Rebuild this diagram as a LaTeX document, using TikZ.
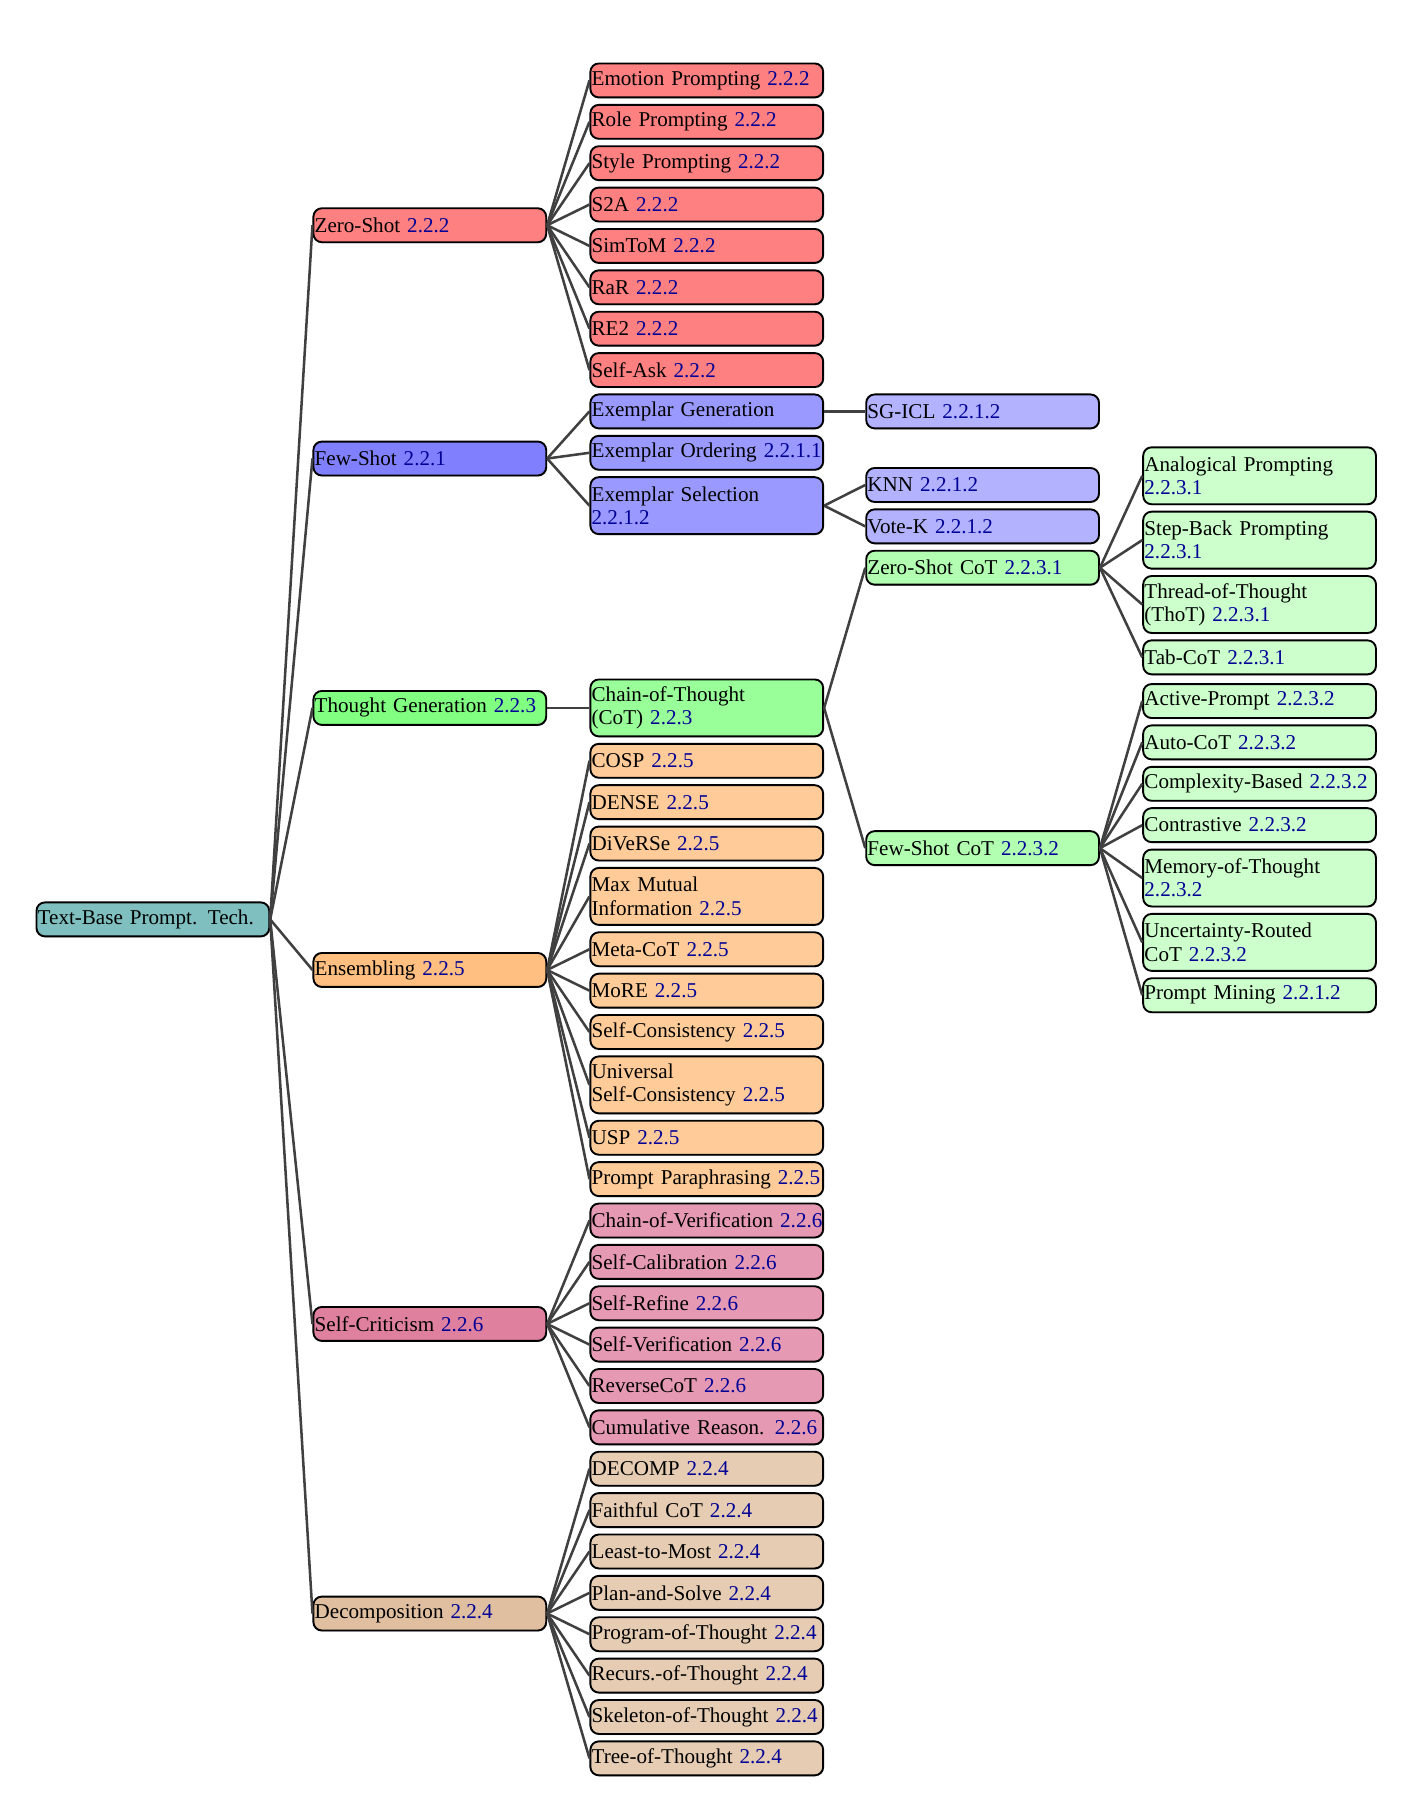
\documentclass[tikz,border=0pt]{standalone}
\usepackage{fontspec}
\setmainfont{Liberation Serif}
\usepackage{tikz}
\usetikzlibrary{shadows}
\definecolor{secblue}{RGB}{0,0,150}
\tikzstyle{tech}  = [
    draw,
    line width=0.9pt,
    rounded corners=4pt,
    inner xsep=0.6pt,
    inner ysep=1pt,
    text width=109.2pt,
    align=left,
    minimum height=16.1pt,
    font=\fontsize{10}{11}\selectfont,
    drop shadow={shadow xshift=0.3pt, shadow yshift=-0.5pt, fill=black!50}
]
\tikzstyle{twoline} = [minimum height=27pt]
\tikzstyle{link}  = [
    draw=black!75,
    line width=1.2pt
]
\tikzstyle{rootbox}  = [tech, fill=teal!50]
\tikzstyle{zero}     = [tech, fill=red!50]
\tikzstyle{few}      = [tech, fill=blue!50]
\tikzstyle{fewmid}   = [tech, fill=blue!40]
\tikzstyle{fewleaf}  = [tech, fill=blue!30]
\tikzstyle{thought}  = [tech, fill=green!50]
\tikzstyle{cot}      = [tech, fill=green!40]
\tikzstyle{cotmid}   = [tech, fill=green!30]
\tikzstyle{cotleaf}  = [tech, fill=green!20]
\tikzstyle{ens}      = [tech, fill=orange!50]
\tikzstyle{ensleaf}  = [tech, fill=orange!40]
\tikzstyle{crit}     = [tech, fill=purple!50]
\tikzstyle{critleaf} = [tech, fill=purple!40]
\tikzstyle{decomp}   = [tech, fill=brown!50]
\tikzstyle{decleaf}  = [tech, fill=brown!40]
\newcommand{\secnum}[1]{\textcolor{secblue}{#1}}
\newcommand{\tlab}[2]{\mbox{#1 \secnum{#2}}}

\begin{document}
\begin{tikzpicture}[x = 0.545pt, y = -0.545pt]
\useasboundingbox (0,0) rectangle (1230,1568);

% root and first level
\node[rootbox] (root)  at (133,800)  {\mbox{Text-Base Prompt. Tech.}};
\node[zero]    (zs)    at (374,196)  {\tlab{Zero-Shot}{2.2.2}};
\node[few]     (fs)    at (374,399)  {\tlab{Few-Shot}{2.2.1}};
\node[thought] (tg)    at (374,616)  {\tlab{Thought Generation}{2.2.3}};
\node[ens]     (en)    at (374,844)  {\tlab{Ensembling}{2.2.5}};
\node[crit]    (sc)    at (374,1152) {\tlab{Self-Criticism}{2.2.6}};
\node[decomp]  (dc)    at (374,1404) {\tlab{Decomposition}{2.2.4}};

% zero-shot
\node[zero] (emo)  at (615,70)  {\tlab{Emotion Prompting}{2.2.2}};
\node[zero] (role) at (615,106) {\tlab{Role Prompting}{2.2.2}};
\node[zero] (sty)  at (615,142) {\tlab{Style Prompting}{2.2.2}};
\node[zero] (s2a)  at (615,178) {\tlab{S2A}{2.2.2}};
\node[zero] (sim)  at (615,214) {\tlab{SimToM}{2.2.2}};
\node[zero] (rar)  at (615,250) {\tlab{RaR}{2.2.2}};
\node[zero] (re2)  at (615,286) {\tlab{RE2}{2.2.2}};
\node[zero] (ask)  at (615,322) {\tlab{Self-Ask}{2.2.2}};

% few-shot
\node[fewmid]          (exgen) at (615,358) {Exemplar Generation};
\node[fewmid]          (exord) at (615,394) {\tlab{Exemplar Ordering}{2.2.1.1}};
\node[fewmid, twoline] (exsel) at (615,440) {Exemplar Selection\\\secnum{2.2.1.2}};
\node[fewleaf] (sgicl) at (855,358) {\tlab{SG-ICL}{2.2.1.2}};
\node[fewleaf] (knn)   at (855,422) {\tlab{KNN}{2.2.1.2}};
\node[fewleaf] (votek) at (855,458) {\tlab{Vote-K}{2.2.1.2}};

% thought generation
\node[cot, twoline] (cotn)  at (615,616) {Chain-of-Thought\\(CoT) \secnum{2.2.3}};
\node[cotmid]       (zscot) at (855,494) {\tlab{Zero-Shot CoT}{2.2.3.1}};
\node[cotmid]       (fscot) at (855,738) {\tlab{Few-Shot CoT}{2.2.3.2}};
\node[cotleaf, twoline] (anal) at (1096,414) {Analogical Prompting\\\secnum{2.2.3.1}};
\node[cotleaf, twoline] (step) at (1096,470) {Step-Back Prompting\\\secnum{2.2.3.1}};
\node[cotleaf, twoline] (thot) at (1096,526) {Thread-of-Thought\\(ThoT) \secnum{2.2.3.1}};
\node[cotleaf]          (tab)  at (1096,572) {\tlab{Tab-CoT}{2.2.3.1}};
\node[cotleaf]          (act)  at (1096,610) {\tlab{Active-Prompt}{2.2.3.2}};
\node[cotleaf]          (auto) at (1096,646) {\tlab{Auto-CoT}{2.2.3.2}};
\node[cotleaf]          (cplx) at (1096,682) {\tlab{Complexity-Based}{2.2.3.2}};
\node[cotleaf]          (cont) at (1096,718) {\tlab{Contrastive}{2.2.3.2}};
\node[cotleaf, twoline] (mem)  at (1096,764) {Memory-of-Thought\\\secnum{2.2.3.2}};
\node[cotleaf, twoline] (unc)  at (1096,820) {Uncertainty-Routed\\CoT \secnum{2.2.3.2}};
\node[cotleaf]          (mine) at (1096,866) {\tlab{Prompt Mining}{2.2.1.2}};

% ensembling
\node[ensleaf]          (cosp)  at (615,662)  {\tlab{COSP}{2.2.5}};
\node[ensleaf]          (dense) at (615,698)  {\tlab{DENSE}{2.2.5}};
\node[ensleaf]          (div)   at (615,734)  {\tlab{DiVeRSe}{2.2.5}};
\node[ensleaf, twoline] (mmi)   at (615,780)  {Max Mutual\\Information \secnum{2.2.5}};
\node[ensleaf]          (meta)  at (615,826)  {\tlab{Meta-CoT}{2.2.5}};
\node[ensleaf]          (more)  at (615,862)  {\tlab{MoRE}{2.2.5}};
\node[ensleaf]          (scons) at (615,898)  {\tlab{Self-Consistency}{2.2.5}};
\node[ensleaf, twoline] (usc)   at (615,944)  {Universal\\Self-Consistency \secnum{2.2.5}};
\node[ensleaf]          (usp)   at (615,990)  {\tlab{USP}{2.2.5}};
\node[ensleaf]          (para)  at (615,1026) {\tlab{Prompt Paraphrasing}{2.2.5}};

% self-criticism
\node[critleaf] (cov)  at (615,1062) {\tlab{Chain-of-Verification}{2.2.6}};
\node[critleaf] (scal) at (615,1098) {\tlab{Self-Calibration}{2.2.6}};
\node[critleaf] (sref) at (615,1134) {\tlab{Self-Refine}{2.2.6}};
\node[critleaf] (sver) at (615,1170) {\tlab{Self-Verification}{2.2.6}};
\node[critleaf] (rcot) at (615,1206) {\tlab{ReverseCoT}{2.2.6}};
\node[critleaf] (cumr) at (615,1242) {\tlab{Cumulative Reason.}{2.2.6}};

% decomposition
\node[decleaf] (dcmp) at (615,1278) {\tlab{DECOMP}{2.2.4}};
\node[decleaf] (fcot) at (615,1314) {\tlab{Faithful CoT}{2.2.4}};
\node[decleaf] (ltm)  at (615,1350) {\tlab{Least-to-Most}{2.2.4}};
\node[decleaf] (pas)  at (615,1386) {\tlab{Plan-and-Solve}{2.2.4}};
\node[decleaf] (pot)  at (615,1422) {\tlab{Program-of-Thought}{2.2.4}};
\node[decleaf] (rot)  at (615,1458) {\tlab{Recurs.-of-Thought}{2.2.4}};
\node[decleaf] (sot)  at (615,1494) {\tlab{Skeleton-of-Thought}{2.2.4}};
\node[decleaf] (tot)  at (615,1530) {\tlab{Tree-of-Thought}{2.2.4}};

\draw[link] (root.east) to (zs.west);
\draw[link] (root.east) to (fs.west);
\draw[link] (root.east) to (tg.west);
\draw[link] (root.east) to (en.west);
\draw[link] (root.east) to (sc.west);
\draw[link] (root.east) to (dc.west);

\draw[link] (zs.east) to (emo.west);
\draw[link] (zs.east) to (role.west);
\draw[link] (zs.east) to (sty.west);
\draw[link] (zs.east) to (s2a.west);
\draw[link] (zs.east) to (sim.west);
\draw[link] (zs.east) to (rar.west);
\draw[link] (zs.east) to (re2.west);
\draw[link] (zs.east) to (ask.west);

\draw[link] (fs.east) to (exgen.west);
\draw[link] (fs.east) to (exord.west);
\draw[link] (fs.east) to (exsel.west);
\draw[link] (exgen.east) to (sgicl.west);
\draw[link] (exsel.east) to (knn.west);
\draw[link] (exsel.east) to (votek.west);

\draw[link] (tg.east) to (cotn.west);
\draw[link] (cotn.east) to (zscot.west);
\draw[link] (cotn.east) to (fscot.west);
\draw[link] (zscot.east) to (anal.west);
\draw[link] (zscot.east) to (step.west);
\draw[link] (zscot.east) to (thot.west);
\draw[link] (zscot.east) to (tab.west);
\draw[link] (fscot.east) to (act.west);
\draw[link] (fscot.east) to (auto.west);
\draw[link] (fscot.east) to (cplx.west);
\draw[link] (fscot.east) to (cont.west);
\draw[link] (fscot.east) to (mem.west);
\draw[link] (fscot.east) to (unc.west);
\draw[link] (fscot.east) to (mine.west);

\draw[link] (en.east) to (cosp.west);
\draw[link] (en.east) to (dense.west);
\draw[link] (en.east) to (div.west);
\draw[link] (en.east) to (mmi.west);
\draw[link] (en.east) to (meta.west);
\draw[link] (en.east) to (more.west);
\draw[link] (en.east) to (scons.west);
\draw[link] (en.east) to (usc.west);
\draw[link] (en.east) to (usp.west);
\draw[link] (en.east) to (para.west);

\draw[link] (sc.east) to (cov.west);
\draw[link] (sc.east) to (scal.west);
\draw[link] (sc.east) to (sref.west);
\draw[link] (sc.east) to (sver.west);
\draw[link] (sc.east) to (rcot.west);
\draw[link] (sc.east) to (cumr.west);

\draw[link] (dc.east) to (dcmp.west);
\draw[link] (dc.east) to (fcot.west);
\draw[link] (dc.east) to (ltm.west);
\draw[link] (dc.east) to (pas.west);
\draw[link] (dc.east) to (pot.west);
\draw[link] (dc.east) to (rot.west);
\draw[link] (dc.east) to (sot.west);
\draw[link] (dc.east) to (tot.west);

\end{tikzpicture}
\end{document}
